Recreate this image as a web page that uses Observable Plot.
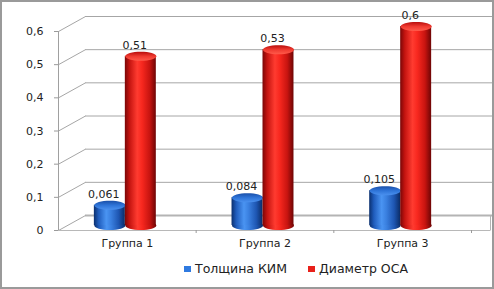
<!DOCTYPE html>
<html>
<head>
<meta charset="utf-8">
<script src="https://cdn.jsdelivr.net/npm/d3@7"></script>
<script src="https://cdn.jsdelivr.net/npm/@observablehq/plot@0.6"></script>
<style>
  html, body { margin: 0; padding: 0; background: #fff; }
  #wrap { position: relative; width: 494px; height: 289px; overflow: hidden; background: #fff; }
  #frame { position: absolute; left: 0; top: 0; width: 494px; height: 289px; box-sizing: border-box; border: 2px solid #9a9a9a; pointer-events: none; }
  #legend { position: absolute; top: 261px; left: 0; width: 494px; height: 16px; font-family: "DejaVu Sans", sans-serif; font-size: 12.5px; color: #222; }
  .item { position: absolute; top: 0; line-height: 16px; white-space: nowrap; }
  .sw { display: inline-block; width: 7px; height: 6px; margin-right: 4px; vertical-align: 1px; }
</style>
</head>
<body>
<div id="wrap">
  <div id="chart"></div>
  <div id="legend"></div>
  <div id="frame"></div>
</div>
<script>
// ---- data ----
const groups = ["Группа 1", "Группа 2", "Группа 3"];
const seriesNames = ["Толщина КИМ", "Диаметр ОСА"];
const kim = [0.061, 0.084, 0.105];
const osa = [0.51, 0.53, 0.6];
const yTicks = [0, 0.1, 0.2, 0.3, 0.4, 0.5, 0.6];

const rows = groups.flatMap((g, i) => [
  {g, i: i + 1, s: 0, v: kim[i]},
  {g, i: i + 1, s: 1, v: osa[i]}
]);

// ---- geometry helpers (pseudo-3D) ----
const W = 494, H = 289;
const mL = 58, mR = 23, mT = 31, mB = 59;
const xk = 3 / (W - mL - mR);        // data units per px (x)
const yk = 0.6 / (H - mT - mB);      // data units per px (y)
const depthX = 27, depthY = 15;
const off = [-0.127, 0.098];         // bar centre offsets within group
const hw = 0.1125;                   // half bar width (units)
const rx = hw / xk, ry = 4.5;

const ellipse = {
  draw(ctx) {
    const k = 0.5523;
    ctx.moveTo(rx, 0);
    ctx.bezierCurveTo(rx, ry * k, rx * k, ry, 0, ry);
    ctx.bezierCurveTo(-rx * k, ry, -rx, ry * k, -rx, 0);
    ctx.bezierCurveTo(-rx, -ry * k, -rx * k, -ry, 0, -ry);
    ctx.bezierCurveTo(rx * k, -ry, rx, -ry * k, rx, 0);
    ctx.closePath();
  }
};

const fmt = d => String(d).replace(".", ",");
const cx = d => d.i + off[d.s];
const grid = "#a6a6a6";

const bodyFill = ["url(#gBlue)", "url(#gRed)"];
const topFill = ["url(#gBlueTop)", "url(#gRedTop)"];

const barMarks = [0, 1].flatMap(s => {
  const data = rows.filter(d => d.s === s);
  return [
    Plot.dot(data, {x: cx, y: () => 0, dy: -5, symbol: ellipse, fill: bodyFill[s], stroke: "none"}),
    Plot.rect(data, {x1: d => cx(d) - hw, x2: d => cx(d) + hw, y1: () => 0, y2: d => d.v, dy: -5, fill: bodyFill[s]}),
    Plot.dot(data, {x: cx, y: d => d.v, dy: -5, symbol: ellipse, fill: topFill[s], stroke: "none"})
  ];
});

const chart = Plot.plot({
  width: W,
  height: H,
  marginLeft: mL,
  marginRight: mR,
  marginTop: mT,
  marginBottom: mB,
  x: {domain: [0.5, 3.5]},
  y: {domain: [0, 0.6]},
  style: {fontFamily: "DejaVu Sans, sans-serif", fontSize: "11px", color: "#222", background: "transparent"},
  marks: [
    // back wall gridlines
    Plot.ruleY(yTicks.slice(1), {x1: () => 0.5, x2: () => 3.5, dx: depthX, dy: -depthY, stroke: grid}),
    // back floor edge
    Plot.ruleY([0], {x1: () => 0.5, x2: () => 3.5, dx: depthX, dy: -depthY, stroke: "#b4b4b4", strokeWidth: 2}),
    // side wall diagonals
    Plot.link(yTicks, {x1: () => 0.5, y1: d => d, x2: () => 0.5 + depthX * xk, y2: d => d + depthY * yk, stroke: grid}),
    // right wall floor edge
    Plot.link([0], {x1: () => 3.5 + (depthX - 8) * xk, y1: d => d, x2: () => 3.5 + (depthX - 8) * xk, y2: d => d + depthY * yk, stroke: "#b4b4b4"}),
    // floor front edge
    Plot.ruleY([0], {x1: () => 0.5, x2: () => 3.5 + (depthX - 8) * xk, stroke: "#b8b8b8"}),
    // vertical axis line
    Plot.ruleX([0.5], {y1: () => 0, y2: () => 0.6, stroke: "#a0a0a0"}),
    Plot.axisY(yTicks, {tickSize: 4, tickPadding: 11, tickFormat: fmt, stroke: "#9a9a9a", fill: "#222", label: null}),
    Plot.axisX([1.5, 2.5, 3.5], {tickSize: 3, tickFormat: () => "", stroke: "#9a9a9a", label: null}),
    Plot.axisX([1, 2, 3], {tickSize: 0, tickPadding: 9, tickFormat: i => groups[i - 1], fill: "#222", label: null}),
    ...barMarks,
    Plot.text(rows, {x: cx, y: d => d.v, dx: -6, dy: -16, text: d => fmt(d.v), fill: "#222", fontSize: 11})
  ]
});

const svg = d3.select(chart);
const defs = svg.insert("defs", ":first-child");
function grad(id, stops, vertical) {
  const g = defs.append("linearGradient").attr("id", id)
    .attr("x1", 0).attr("y1", 0).attr("x2", vertical ? 0 : 1).attr("y2", vertical ? 1 : 0);
  stops.forEach(([o, c]) => g.append("stop").attr("offset", o).attr("stop-color", c));
}
grad("gRed", [[0, "#7a0606"], [0.15, "#c41410"], [0.4, "#ff3b30"], [0.55, "#f8281f"], [0.8, "#c81410"], [1, "#6e0505"]]);
grad("gBlue", [[0, "#0a2f6e"], [0.15, "#1f5cbc"], [0.4, "#4a94f2"], [0.55, "#3a80e0"], [0.8, "#1e56b2"], [1, "#0a2c66"]]);
grad("gRedTop", [[0, "#b80e0c"], [0.5, "#f03a30"], [1, "#ff5a4a"]], true);
grad("gBlueTop", [[0, "#1a4fa8"], [0.5, "#2e74d8"], [1, "#4a90ee"]], true);

document.getElementById("chart").appendChild(chart);

const legend = document.getElementById("legend");
const swColors = ["#2f7ae0", "#e8201a"];
const lefts = [184, 308];
seriesNames.forEach((name, k) => {
  const it = document.createElement("div");
  it.className = "item";
  it.style.left = lefts[k] + "px";
  it.innerHTML = `<span class="sw" style="background:${swColors[k]}"></span>${name}`;
  legend.appendChild(it);
});
</script>
</body>
</html>
